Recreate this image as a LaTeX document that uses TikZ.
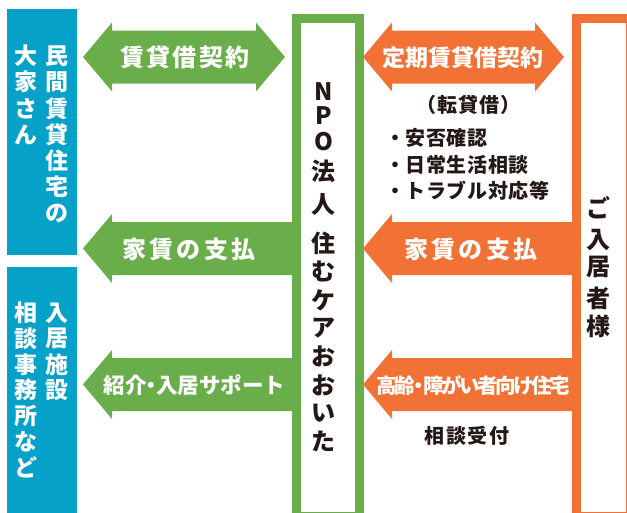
\documentclass[tikz,border=0pt]{standalone}
\usepackage{fontspec}
\setmainfont{Noto Sans CJK JP}
\newfontfamily\jp{Noto Sans CJK JP}
\definecolor{cblue}{HTML}{05A1C8}
\definecolor{cgreen}{HTML}{6AAE4C}
\definecolor{corange}{HTML}{F27134}
\definecolor{cink}{HTML}{231815}
\newcommand\sz[1]{\fontsize{#1}{#1}\selectfont}
\newcommand\trk[1]{\addfontfeature{LetterSpace=#1}}
\newcommand\ndot{\kern-6pt・\kern-6pt}
\begin{document}
\begin{tikzpicture}[x=1pt,y=-1pt,
  sidebox/.style={fill=cblue,inner sep=0pt,anchor=north west},
  frame/.style={line width=9pt,inner sep=0pt,anchor=north west},
  vwhite/.style={text=white,inner sep=0pt},
  vblack/.style={text=cink,inner sep=0pt},
  albl/.style={text=white,inner sep=0pt},
  blbl/.style={text=cink,inner sep=0pt}]
\useasboundingbox (0,0) rectangle (627,512);
\clip (0,0) rectangle (627,512);

% side boxes
\node[sidebox,minimum width=70pt,minimum height=246pt] (owner) at (7,9) {};
\node[sidebox,minimum width=70pt,minimum height=250pt] (office) at (7,267) {};

% frames
\node[frame,draw=cgreen,minimum width=63pt,minimum height=498pt] (npo) at (291.5,13.5) {};
\node[frame,draw=corange,minimum width=54pt,minimum height=498pt] (res) at (571.5,13.5) {};

% green arrows
\fill[cgreen] (83,57) -- (112,22.5) -- (112,30.5) -- (256,30.5) -- (256,22.5) -- (285,57)
  -- (256,91.5) -- (256,83.5) -- (112,83.5) -- (112,91.5) -- cycle;
\fill[cgreen] (83,248.5) -- (112,214) -- (112,222) -- (292,222) -- (292,275) -- (112,275) -- (112,283) -- cycle;
\fill[cgreen] (83,384.5) -- (112,350) -- (112,358) -- (292,358) -- (292,411) -- (112,411) -- (112,419) -- cycle;
% orange arrows
\fill[corange] (363,57) -- (392,22.5) -- (392,30.5) -- (535,30.5) -- (535,22.5) -- (564,57)
  -- (535,91.5) -- (535,83.5) -- (392,83.5) -- (392,91.5) -- cycle;
\fill[corange] (363,248.5) -- (392,214) -- (392,222) -- (572,222) -- (572,275) -- (392,275) -- (392,283) -- cycle;
\fill[corange] (363,384.5) -- (392,350) -- (392,358) -- (572,358) -- (572,411) -- (392,411) -- (392,419) -- cycle;

% arrow labels
\node[albl,font=\jp\bfseries\sz{24}\trk{9}] (a1) at (185,57.5) {賃貸借契約};
\node[albl,font=\jp\bfseries\sz{24}\trk{13}] (a2) at (189,249) {家賃の支払};
\node[albl,font=\jp\bfseries\sz{21.5}] (a3) at (194.5,385) {紹介\ndot 入居サポート};
\node[albl,font=\jp\bfseries\sz{23}] (b1) at (463,57.5) {定期賃貸借契約};
\node[albl,font=\jp\bfseries\sz{24}\trk{13}] (b2) at (471,249) {家賃の支払};
\node[albl,font=\jp\bfseries\sz{20.5}\trk{-12}] (b3) at (473,385) {高齢\ndot 障がい者向け住宅};

% black texts
\node[blbl,font=\jp\bfseries\sz{20}\trk{5}] (t0) at (468,105) {（転貸借）};
\node[blbl,anchor=west,font=\jp\bfseries\sz{20}\trk{3}] (t1) at (385,138) {・安否確認};
\node[blbl,anchor=west,font=\jp\bfseries\sz{20}\trk{3}] (t2) at (385,165) {・日常生活相談};
\node[blbl,anchor=west,font=\jp\bfseries\sz{20}\trk{3}] (t3) at (385,191) {・トラブル対応等};
\node[blbl,font=\jp\bfseries\sz{20}\trk{7}] (t4) at (467,436) {相談受付};

% vertical texts
\foreach \c [count=\i from 0] in {民,間,賃,貸,住,宅,の}
  \node[vwhite,font=\jp\bfseries\sz{23}] (ow-a\i) at (57,56+26.2*\i) {\c};
\foreach \c [count=\i from 0] in {大,家,さ,ん}
  \node[vwhite,font=\jp\bfseries\sz{23}] (ow-b\i) at (26,56+26.2*\i) {\c};
\foreach \c [count=\i from 0] in {入,居,施,設}
  \node[vwhite,font=\jp\bfseries\sz{23}] (of-a\i) at (57,313+25.7*\i) {\c};
\foreach \c [count=\i from 0] in {相,談,事,務,所,な,ど}
  \node[vwhite,font=\jp\bfseries\sz{23}] (of-b\i) at (26,313+25.7*\i) {\c};
\foreach \c/\y [count=\i] in {N/92,P/116,O/142,法/171,人/205,住/243,む/271,ケ/300,ア/328,お/356,お/385,い/413,た/441}
  \node[vblack,font=\jp\bfseries\sz{24}] (np\i) at (323.5,\y) {\c};
\foreach \c/\y [count=\i] in {ご/208,入/240,居/267,者/298,様/326}
  \node[vblack,font=\jp\bfseries\sz{24}] (rs\i) at (598.5,\y) {\c};
\end{tikzpicture}
\end{document}
